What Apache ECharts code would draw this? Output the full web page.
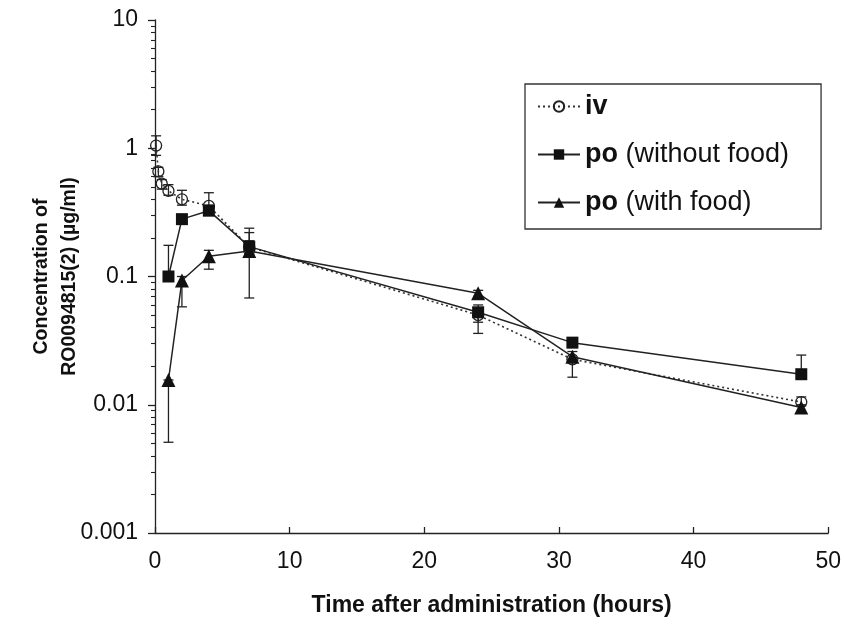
<!DOCTYPE html>
<html>
<head>
<meta charset="utf-8">
<script src="https://cdn.jsdelivr.net/npm/echarts@6/dist/echarts.min.js"></script>
<style>
  html, body { margin: 0; padding: 0; background: #fff; }
  #container { width: 844px; height: 628px; }
</style>
</head>
<body>
<div id="container"></div>
<script>
// time points (hours)
var ivTime = [0.083, 0.25, 0.5, 1, 2, 4, 7, 24, 31, 48];
var poTime = [1, 2, 4, 7, 24, 31, 48];

// iv
var ivConc = [1.05, 0.66, 0.53, 0.465, 0.40, 0.355, 0.17, 0.05, 0.0226, 0.0105];
var ivLow  = [0.88, 0.60, 0.48, 0.43, 0.36, 0.30, 0.15, 0.044, 0.0164, 0.0098];
var ivHigh = [1.25, 0.71, 0.57, 0.52, 0.47, 0.45, 0.19, 0.056, 0.0226, 0.0115];

// po (without food)
var noFoodConc = [0.10, 0.28, 0.326, 0.171, 0.0526, 0.0305, 0.0173];
var noFoodLow  = [0.10, 0.28, 0.30, 0.15, 0.036, 0.028, 0.0173];
var noFoodHigh = [0.175, 0.30, 0.36, 0.238, 0.06, 0.033, 0.0244];

// po (with food)
var foodConc = [0.0156, 0.093, 0.144, 0.158, 0.074, 0.0237, 0.0095];
var foodLow  = [0.0051, 0.058, 0.114, 0.068, 0.07, 0.022, 0.0086];
var foodHigh = [0.0156, 0.10, 0.16, 0.22, 0.078, 0.026, 0.0100];

var xTicks = [0, 10, 20, 30, 40, 50];
var yDecades = [0.001, 0.01, 0.1, 1, 10];

var minorTicks = [];
for (var d = 0; d < yDecades.length - 1; d++) {
    for (var m = 2; m <= 9; m++) {
        minorTicks.push(parseFloat((yDecades[d] * m).toPrecision(3)));
    }
}

function pairs(xs, ys) {
    return xs.map(function (x, i) { return [x, ys[i]]; });
}
function triples(xs, lo, hi) {
    return xs.map(function (x, i) { return [x, lo[i], hi[i]]; });
}

function errRender(params, api) {
    var x = api.value(0);
    var pLo = api.coord([x, api.value(1)]);
    var pHi = api.coord([x, api.value(2)]);
    var cap = 5;
    var st = { stroke: '#222', lineWidth: 1.3 };
    return {
        type: 'group',
        children: [
            { type: 'line', shape: { x1: pLo[0], y1: pLo[1], x2: pHi[0], y2: pHi[1] }, style: st },
            { type: 'line', shape: { x1: pLo[0] - cap, y1: pLo[1], x2: pLo[0] + cap, y2: pLo[1] }, style: st },
            { type: 'line', shape: { x1: pHi[0] - cap, y1: pHi[1], x2: pHi[0] + cap, y2: pHi[1] }, style: st }
        ]
    };
}

var font = 'Liberation Sans, Arial, sans-serif';

var dom = document.getElementById('container');
var myChart = echarts.init(dom, null, { renderer: 'canvas' });

var option = {
    backgroundColor: '#fff',
    animation: false,
    textStyle: { fontFamily: font, color: '#111' },
    grid: { left: 155, right: 15, top: 20, bottom: 95 },
    legend: {
        orient: 'vertical',
        left: 525,
        top: 84,
        padding: [9, 32, 13, 12],
        itemGap: 21,
        itemWidth: 42,
        itemHeight: 13,
        borderColor: '#333',
        borderWidth: 1.3,
        data: ['iv', 'po (without food)', 'po (with food)'],
        formatter: function (name) {
            if (name === 'iv') return '{b|iv}';
            return '{b|po}{n| ' + name.slice(3) + '}';
        },
        textStyle: {
            rich: {
                b: { fontFamily: font, fontWeight: 'bold', fontSize: 27, color: '#111', lineHeight: 30 },
                n: { fontFamily: font, fontSize: 27, color: '#111', lineHeight: 30 }
            }
        }
    },
    xAxis: {
        type: 'value',
        min: xTicks[0],
        max: xTicks[xTicks.length - 1],
        interval: 10,
        name: 'Time after administration (hours)',
        nameLocation: 'middle',
        nameGap: 61,
        nameTextStyle: { fontFamily: font, fontWeight: 'bold', fontSize: 23, color: '#111' },
        axisLine: { lineStyle: { color: '#222', width: 1.3 } },
        axisTick: { inside: true, length: 6, lineStyle: { color: '#222', width: 1.3 } },
        axisLabel: { margin: 17, fontSize: 23, color: '#111', fontFamily: font },
        splitLine: { show: false }
    },
    yAxis: [
        {
            type: 'log',
            logBase: 10,
            min: yDecades[0],
            max: yDecades[yDecades.length - 1],
            name: 'Concentration of\nRO0094815(2) (µg/ml)',
            nameLocation: 'middle',
            nameRotate: 90,
            nameGap: 71,
            nameMoveOverlap: false,
            nameTextStyle: { fontFamily: font, fontWeight: 'bold', fontSize: 19.5, color: '#111', lineHeight: 28 },
            axisLine: { show: true, lineStyle: { color: '#222', width: 1.3 } },
            axisTick: { show: true, length: 7, lineStyle: { color: '#222', width: 1.3 } },
            axisLabel: {
                margin: 17,
                fontSize: 23,
                color: '#111',
                fontFamily: font,
                formatter: function (v) { return String(parseFloat(v.toPrecision(3))); }
            },
            splitLine: { show: false }
        },
        {
            type: 'log',
            logBase: 10,
            min: yDecades[0],
            max: yDecades[yDecades.length - 1],
            position: 'left',
            axisLine: { show: false },
            axisTick: { show: true, length: 4, customValues: minorTicks, lineStyle: { color: '#222', width: 1.1 } },
            axisLabel: { show: false },
            splitLine: { show: false }
        }
    ],
    series: [
        {
            type: 'custom',
            name: 'ivErr',
            renderItem: errRender,
            data: triples(ivTime, ivLow, ivHigh),
            encode: { x: 0, y: [1, 2] },
            z: 1,
            silent: true
        },
        {
            type: 'custom',
            name: 'noFoodErr',
            renderItem: errRender,
            data: triples(poTime, noFoodLow, noFoodHigh),
            encode: { x: 0, y: [1, 2] },
            z: 1,
            silent: true
        },
        {
            type: 'custom',
            name: 'foodErr',
            renderItem: errRender,
            data: triples(poTime, foodLow, foodHigh),
            encode: { x: 0, y: [1, 2] },
            z: 1,
            silent: true
        },
        {
            name: 'iv',
            type: 'line',
            data: pairs(ivTime, ivConc),
            symbol: 'circle',
            symbolSize: 11,
            z: 2,
            lineStyle: { color: '#333', width: 1.6, type: [2, 3] },
            itemStyle: { color: 'rgba(255,255,255,0)', borderColor: '#222', borderWidth: 1.3 }
        },
        {
            name: 'po (without food)',
            type: 'line',
            data: pairs(poTime, noFoodConc),
            symbol: 'rect',
            symbolSize: 12,
            z: 3,
            lineStyle: { color: '#222', width: 1.5 },
            itemStyle: { color: '#111' }
        },
        {
            name: 'po (with food)',
            type: 'line',
            data: pairs(poTime, foodConc),
            symbol: 'triangle',
            symbolSize: 14,
            z: 4,
            lineStyle: { color: '#222', width: 1.5 },
            itemStyle: { color: '#111' }
        }
    ]
};

myChart.setOption(option);
window.addEventListener('resize', myChart.resize);
</script>
</body>
</html>
